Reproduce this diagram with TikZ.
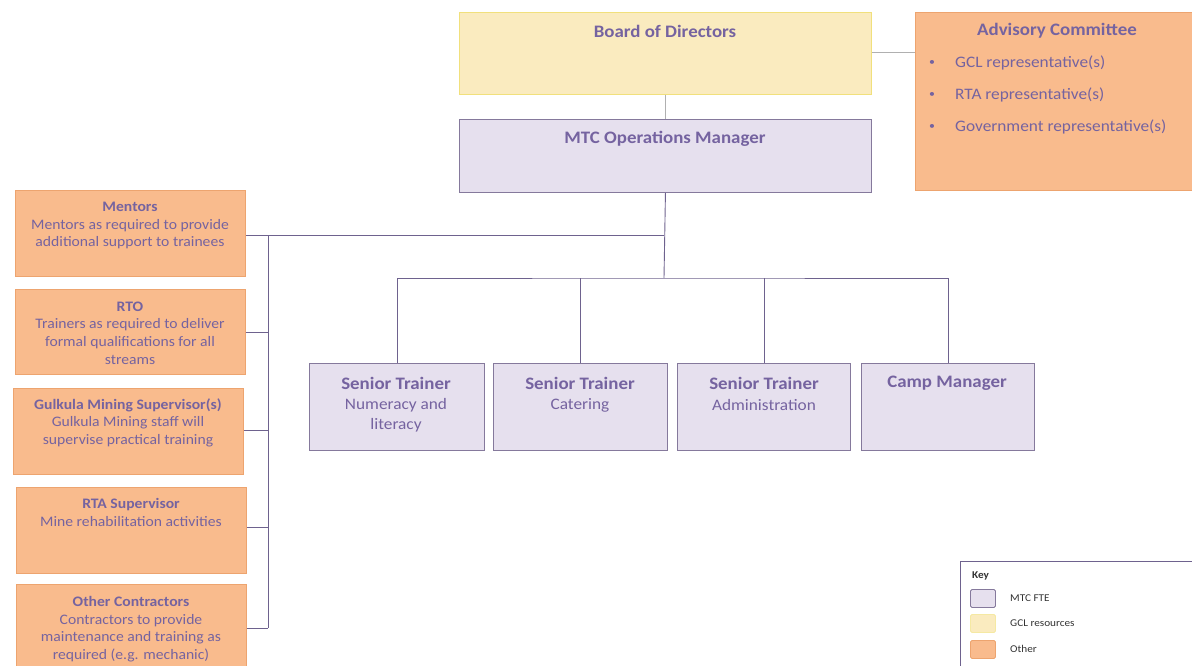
\documentclass[tikz,border=0pt]{standalone}
\usepackage{fontspec}
\setmainfont[FakeStretch=1.08]{Carlito}
\definecolor{txt}{HTML}{7563A0}
\definecolor{lilfill}{HTML}{E6E0EE}
\definecolor{lildraw}{HTML}{85799C}
\definecolor{yelfill}{HTML}{FAEBBF}
\definecolor{yeldraw}{HTML}{F1E07C}
\definecolor{orfill}{HTML}{F9BB8D}
\definecolor{ordraw}{HTML}{EDA46F}
\definecolor{orgline}{HTML}{6E628E}
\definecolor{grayline}{HTML}{B0B0B0}
\begin{document}
\begin{tikzpicture}[x=1pt,y=-1pt,
  lil/.style={draw=lildraw,fill=lilfill,line width=0.9pt,anchor=north west,inner sep=0pt},
  yel/.style={draw=yeldraw,fill=yelfill,line width=0.9pt,anchor=north west,inner sep=0pt},
  orb/.style={draw=ordraw,fill=orfill,line width=0.9pt,anchor=north west,inner sep=0pt},
  ttl/.style={text=txt,font=\fontsize{17.5}{20}\selectfont\bfseries,inner sep=0pt},
  sub/.style={text=txt,font=\fontsize{16}{20}\selectfont,inner sep=0pt,align=center},
  lft/.style={text=txt,font=\fontsize{14.5}{17.6}\selectfont,inner sep=0pt,align=center},
  bul/.style={text=txt,font=\fontsize{16}{18}\selectfont,inner sep=0pt,anchor=west},
  key/.style={text=black!80,font=\fontsize{10.4}{12}\selectfont,inner sep=0pt,anchor=west},
  org/.style={draw=orgline,line width=0.9pt},
  swatch/.style={line width=0.9pt,rounded corners=1.5pt,minimum width=25pt,minimum height=18pt,anchor=north west,inner sep=0pt}
]
\useasboundingbox (0,0) rectangle (1192,666);

% top boxes
\node[yel,minimum width=412,minimum height=82] (board) at (459,12) {};
\node[ttl] (boardt) at (665,31) {Board of Directors};
\node[orb,minimum width=282,minimum height=178] (adv) at (915,12) {};
\node[ttl] (advt) at (1057,31) {Advisory Committee};
\node[bul,font=\fontsize{11}{12}\selectfont] (b1) at (929,63) {\textbullet};
\node[bul] (a1) at (955,63) {GCL representative(s)};
\node[bul,font=\fontsize{11}{12}\selectfont] (b2) at (929,95) {\textbullet};
\node[bul] (a2) at (955,95) {RTA representative(s)};
\node[bul,font=\fontsize{11}{12}\selectfont] (b3) at (929,127) {\textbullet};
\node[bul] (a3) at (955,127) {Government representative(s)};

\node[lil,minimum width=412,minimum height=73] (mtc) at (459,119) {};
\node[ttl] (mtct) at (665,139) {MTC Operations Manager};

% senior boxes
\node[lil,minimum width=175,minimum height=87] (s1) at (309,363) {};
\node[lil,minimum width=174,minimum height=87] (s2) at (493,363) {};
\node[lil,minimum width=173,minimum height=87] (s3) at (677,363) {};
\node[lil,minimum width=173,minimum height=87] (s4) at (861,363) {};
\node[ttl] (s1t) at (396,383) {Senior Trainer};
\node[sub] (s1s) at (396,415) {Numeracy and\\literacy};
\node[ttl] (s2t) at (580,383) {Senior Trainer};
\node[sub] (s2s) at (580,405) {Catering};
\node[ttl] (s3t) at (764,383) {Senior Trainer};
\node[sub] (s3s) at (764,405) {Administration};
\node[ttl] (s4t) at (947,383) {Camp Manager};

% left boxes
\node[orb,minimum width=230,minimum height=86] (m) at (15,190) {};
\node[lft] (mt) at (130,225.5) {\textbf{Mentors}\\Mentors as required to provide\\additional support to trainees};
\node[orb,minimum width=230,minimum height=85] (r) at (15,289) {};
\node[lft] (rt) at (130,333) {\textbf{RTO}\\Trainers as required to deliver\\formal qualifications for all\\streams};
\node[orb,minimum width=230,minimum height=86] (g) at (13,388) {};
\node[lft] (gt) at (128,422.5) {\textbf{Gulkula Mining Supervisor(s)}\\Gulkula Mining staff will\\supervise practical training};
\node[orb,minimum width=230,minimum height=86] (ra) at (16,487) {};
\node[lft] (rat) at (131,512.5) {\textbf{RTA Supervisor}\\Mine rehabilitation activities};
\node[orb,minimum width=230,minimum height=90] (o) at (16,584) {};
\node[lft] (ot) at (131,629) {\textbf{Other Contractors}\\Contractors to provide\\maintenance and training as\\required (e.g. mechanic)};

% connectors
\draw[draw=grayline,line width=0.6pt] (board.east |- 0,52) -- (adv.west |- 0,52);
\draw[draw=grayline,line width=1.2pt] (board.south) -- (mtc.north);
\coordinate (hub) at (664,278);
\coordinate (lhub) at (664,235);
\draw[org] (mtc.south) -- (hub);
\draw[org] (s1.north) |- (hub) -| (s4.north);
\draw[org] (s2.north) -- (s2.north |- hub);
\draw[org] (s3.north) -- (s3.north |- hub);
\coordinate (bus) at (268,235);
\draw[org] (lhub) -- (m.east |- lhub);
\draw[org] (bus) -- (268,628);
\draw[org] (r.east |- 0,332) -- (268,332);
\draw[org] (g.east |- 0,430) -- (268,430);
\draw[org] (ra.east |- 0,527) -- (268,527);
\draw[org] (o.east |- 0,628) -- (268,628);

% key
\node[draw=orgline,line width=0.9pt,fill=white,anchor=north west,minimum width=240,minimum height=110,inner sep=0pt] (keybox) at (960,561) {};
\node[key,font=\fontsize{10.4}{12}\selectfont\bfseries] (keyt) at (972,576) {Key};
\node[swatch,draw=lildraw,fill=lilfill] (k1) at (970,589) {};
\node[swatch,draw=yeldraw!70,fill=yelfill] (k2) at (970,614) {};
\node[swatch,draw=ordraw,fill=orfill] (k3) at (970,640) {};
\node[key] (k1t) at (1010,598) {MTC FTE};
\node[key] (k2t) at (1010,623) {GCL resources};
\node[key] (k3t) at (1010,649) {Other};
\end{tikzpicture}
\end{document}
